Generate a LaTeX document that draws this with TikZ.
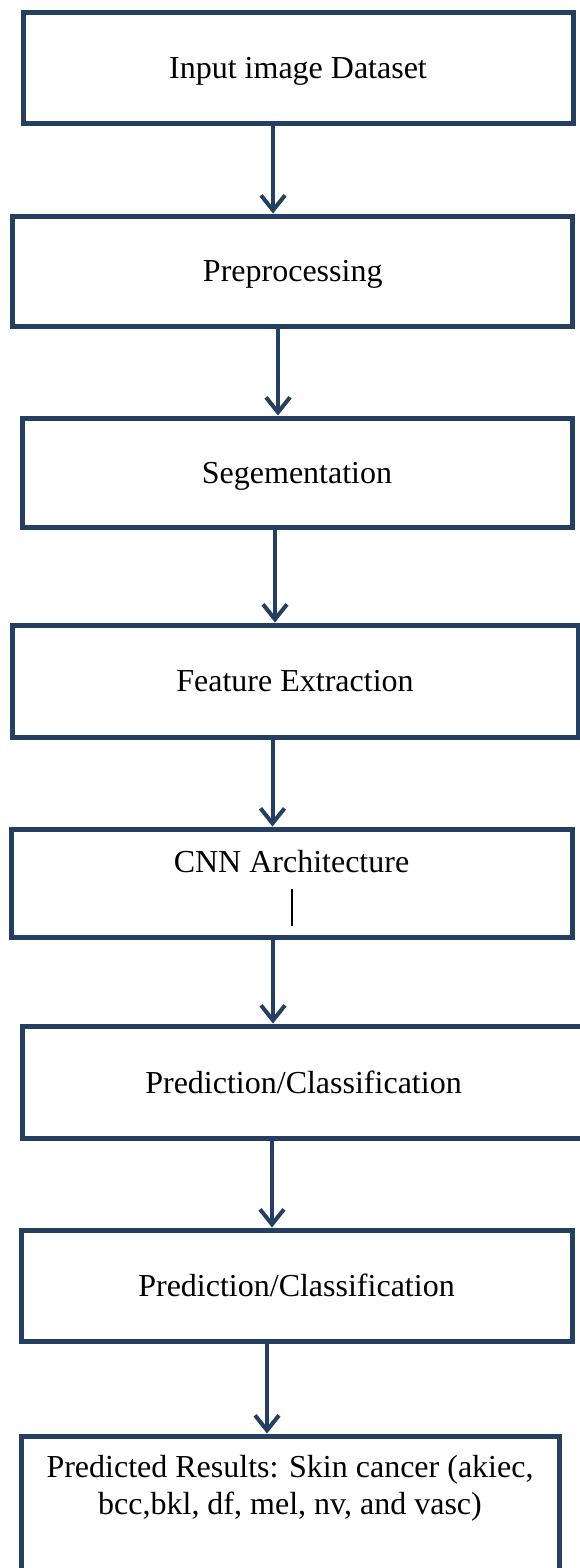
\documentclass[tikz,border=0pt]{standalone}
\usepackage{fontspec}
\setmainfont{Liberation Serif}
\usetikzlibrary{arrows.meta}
\definecolor{flowblue}{HTML}{243F60}

\begin{document}
\begin{tikzpicture}[x=1pt, y=-1pt,
  % every stage: thick dark-blue frame, black serif text
  stagebox/.style={rectangle, draw=flowblue, line width=5pt, fill=white,
    inner sep=0pt, align=center, font=\fontsize{32}{37}\selectfont},
  % connectors: same blue, open V head
  flowarrow/.style={draw=flowblue, line width=4pt,
    -{Straight Barb[length=15pt, width=24pt]}},
]
\useasboundingbox (0,0) rectangle (579,1568);

\node[stagebox, minimum width=550pt, minimum height=111pt, text depth=0pt] (inp)  at (298,68)      {Input image Dataset};
\node[stagebox, minimum width=560pt, minimum height=110pt, text depth=0pt] (prep) at (292.75,271)  {Preprocessing};
\node[stagebox, minimum width=550pt, minimum height=109pt, text depth=0pt] (seg)  at (297,472.5)   {Segementation};
\node[stagebox, minimum width=566pt, minimum height=112pt] (feat) at (295,681)     {Feature Extraction};
\node[stagebox, minimum width=561pt, minimum height=108pt] (cnn)  at (291.5,883)
  {\rule{0pt}{32pt}CNN Architecture\\[15.5pt]\rule{2pt}{37pt}};
\node[stagebox, minimum width=563pt, minimum height=112pt] (pred)  at (303.5,1082)  {Prediction/Classification};
\node[stagebox, minimum width=551pt, minimum height=111pt] (predb) at (296.5,1285.5) {Prediction/Classification};
% last box runs off the bottom edge
\node[stagebox, anchor=north, minimum width=538pt, inner ysep=19pt, text depth=130pt] (result) at (290,1433.5)
  {Predicted Results: Skin cancer (akiec,\\bcc,bkl, df, mel, nv, and vasc)};

% arrows sit a little left of the box centres
\foreach \a/\b/\x in {inp/prep/273, prep/seg/278, seg/feat/275, feat/cnn/272.5,
                      cnn/pred/273, pred/predb/272, predb/result/267} {
  \coordinate (ax) at (\x,0);
  \draw[flowarrow] (\a.south -| ax) -- (\b.north -| ax);
}
\end{tikzpicture}
\end{document}
